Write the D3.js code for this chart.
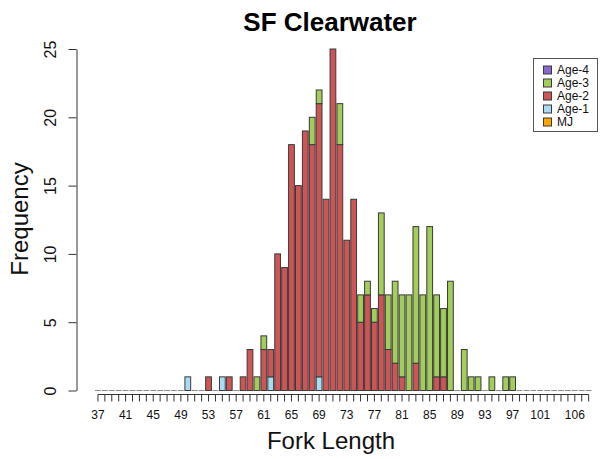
<!DOCTYPE html>
<html>
<head>
<meta charset="utf-8">
<script src="https://cdn.jsdelivr.net/npm/d3@7"></script>
<style>
  html, body { margin: 0; padding: 0; background: #fff; }
  svg { display: block; font-family: "Liberation Sans", Arial, Helvetica, sans-serif; }
</style>
</head>
<body>
<svg id="chart" width="604" height="459"></svg>
<script>
// Fork length classes (mm bins), one bar each
const categories = [
  37, 38, 39, 40, 41, 42, 43, 44, 45, 46, 47, 48,
  49, 50, 51, 52, 53, 54, 55, 56, 57, 58, 59, 60,
  61, 62, 63, 64, 65, 66, 67, 68, 69, 70, 71, 72,
  73, 74, 75, 76, 77, 78, 79, 80, 81, 82, 83, 84,
  85, 86, 87, 88, 89, 90, 91, 92, 93, 94, 95, 96,
  97, 98, 99, 100, 101, 102, 103, 104, 105, 106, 107, 108
];

// Counts per age class, aligned with categories
const mj = [
  0,0,0,0,0,0,0,0,0,0,0,0,
  0,0,0,0,0,0,0,0,0,0,0,0,
  0,0,0,0,0,0,0,0,0,0,0,0,
  0,0,0,0,0,0,0,0,0,0,0,0,
  0,0,0,0,0,0,0,0,0,0,0,0,
  0,0,0,0,0,0,0,0,0,0,0,0
];
const age1 = [
  0,0,0,0,0,0,0,0,0,0,0,0,
  0,1,0,0,0,0,1,0,0,0,0,0,
  0,1,0,0,0,0,0,0,1,0,0,0,
  0,0,0,0,0,0,0,0,0,0,0,0,
  0,0,0,0,0,0,0,0,0,0,0,0,
  0,0,0,0,0,0,0,0,0,0,0,0
];
const age2 = [
  0,0,0,0,0,0,0,0,0,0,0,0,
  0,0,0,0,1,0,0,1,0,1,3,0,
  3,2,10,9,18,15,19,18,20,14,25,18,
  11,14,5,7,5,7,3,2,1,0,2,0,
  0,1,1,0,0,0,0,0,0,0,0,0,
  0,0,0,0,0,0,0,0,0,0,0,0
];
const age3 = [
  0,0,0,0,0,0,0,0,0,0,0,0,
  0,0,0,0,0,0,0,0,0,0,0,1,
  1,0,0,0,0,0,0,2,1,0,0,3,
  0,0,2,1,1,6,4,6,6,7,10,7,
  12,6,5,8,0,3,1,1,0,1,0,1,
  1,0,0,0,0,0,0,0,0,0,0,0
];
const age4 = [
  0,0,0,0,0,0,0,0,0,0,0,0,
  0,0,0,0,0,0,0,0,0,0,0,0,
  0,0,0,0,0,0,0,0,0,0,0,0,
  0,0,0,0,0,0,0,0,0,0,0,0,
  0,0,0,0,0,0,0,0,0,0,0,0,
  0,0,0,0,0,0,0,0,0,0,0,0
];

// Stack order, bottom to top
const seriesKeys = ["MJ", "Age-1", "Age-2", "Age-3", "Age-4"];
const seriesValues = [mj, age1, age2, age3, age4];
const seriesColors = ["#FFA500", "#ADDAF3", "#CD5555", "#A2CD5A", "#8968CD"];

// Legend lists the classes top-down, oldest first
const legendKeys = ["Age-4", "Age-3", "Age-2", "Age-1", "MJ"];

const yTicks = [0, 5, 10, 15, 20, 25];
const xTickLabels = [37, 41, 45, 49, 53, 57, 61, 65, 69, 73, 77, 81, 85, 89, 93, 97, 101, 106];

const titleText = "SF Clearwater";
const xTitle = "Fork Length";
const yTitle = "Frequency";

// ---- table for the stack layout ----
const rows = categories.map((c, i) => {
  const r = { cat: c };
  seriesKeys.forEach((k, j) => { r[k] = seriesValues[j][i]; });
  return r;
});
const colorOf = d3.scaleOrdinal().domain(seriesKeys).range(seriesColors);
const stacked = d3.stack().keys(seriesKeys)(rows);

const svg = d3.select("#chart");
const font = '"Liberation Sans", Arial, Helvetica, sans-serif';

const x = d3.scaleBand()
  .domain(categories)
  .range([94.5, 592.1])
  .paddingInner(0.1667)
  .paddingOuter(0.0833);

const y = d3.scaleLinear().domain([0, 25]).range([390.5, 49]);

// ---- bars ----
const barG = svg.append("g");
stacked.forEach(layer => {
  barG.append("g")
    .selectAll("rect")
    .data(layer.filter(d => d[1] - d[0] > 0))
    .join("rect")
    .attr("x", d => x(d.data.cat))
    .attr("width", x.bandwidth())
    .attr("y", d => y(d[1]))
    .attr("height", d => y(d[0]) - y(d[1]))
    .attr("fill", colorOf(layer.key))
    .attr("stroke", "#3a3a3a")
    .attr("stroke-width", 1);
});

// empty classes still show their zero-height bar outline
const totals = rows.map(r => d3.sum(seriesKeys, k => r[k]));
barG.append("g")
  .selectAll("line")
  .data(rows.filter((r, i) => totals[i] === 0))
  .join("line")
  .attr("x1", d => x(d.cat))
  .attr("x2", d => x(d.cat) + x.bandwidth())
  .attr("y1", y(0))
  .attr("y2", y(0))
  .attr("stroke", "#8a8a8a")
  .attr("stroke-width", 1);

// ---- x axis ----
const xAxisY = 394.5;
const xAxis = d3.axisBottom(x)
  .tickSize(7)
  .tickSizeOuter(0)
  .tickFormat(d => xTickLabels.includes(d) ? String(d) : "");
const gx = svg.append("g")
  .attr("transform", `translate(0,${xAxisY})`)
  .call(xAxis);
gx.select(".domain").remove();
gx.append("line")
  .attr("x1", x(categories[0]) + x.bandwidth() / 2)
  .attr("x2", x(categories[categories.length - 1]) + x.bandwidth() / 2)
  .attr("stroke", "#333");
gx.selectAll(".tick line").attr("stroke", "#333");
gx.selectAll(".tick text")
  .attr("y", 16)
  .attr("fill", "#111")
  .style("font-family", font)
  .style("font-size", "12px");

// ---- y axis ----
const yAxis = d3.axisLeft(y).tickValues(yTicks).tickSize(8).tickSizeOuter(0);
const gy = svg.append("g")
  .attr("transform", "translate(76.5,0)")
  .call(yAxis);
gy.select(".domain").attr("stroke", "#333");
gy.selectAll(".tick line").attr("stroke", "#333");
gy.selectAll(".tick text")
  .attr("x", 0)
  .attr("y", 0)
  .attr("dy", "0.36em")
  .attr("transform", "translate(-26,0) rotate(-90)")
  .attr("text-anchor", "middle")
  .attr("fill", "#111")
  .style("font-family", font)
  .style("font-size", "16px");

// ---- titles ----
svg.append("text")
  .attr("x", 330)
  .attr("y", 31)
  .attr("text-anchor", "middle")
  .style("font-weight", "bold")
  .style("font-size", "26px")
  .attr("fill", "#000")
  .text(titleText);

svg.append("text")
  .attr("x", 331)
  .attr("y", 449)
  .attr("text-anchor", "middle")
  .style("font-size", "24px")
  .attr("fill", "#111")
  .text(xTitle);

svg.append("text")
  .attr("transform", "translate(28,219) rotate(-90)")
  .attr("text-anchor", "middle")
  .style("font-size", "24px")
  .attr("fill", "#111")
  .text(yTitle);

// ---- legend ----
const lg = svg.append("g");
lg.append("rect")
  .attr("x", 533.5).attr("y", 58.5)
  .attr("width", 64).attr("height", 73)
  .attr("fill", "#fff")
  .attr("stroke", "#555");
legendKeys.forEach((k, i) => {
  const cy = 70 + i * 13;
  lg.append("rect")
    .attr("x", 543.5).attr("y", cy - 4)
    .attr("width", 8).attr("height", 8)
    .attr("fill", colorOf(k))
    .attr("stroke", "#3a3a3a");
  lg.append("text")
    .attr("x", 557).attr("y", cy)
    .attr("dy", "0.35em")
    .style("font-size", "12px")
    .attr("fill", "#111")
    .text(k);
});
</script>
</body>
</html>
